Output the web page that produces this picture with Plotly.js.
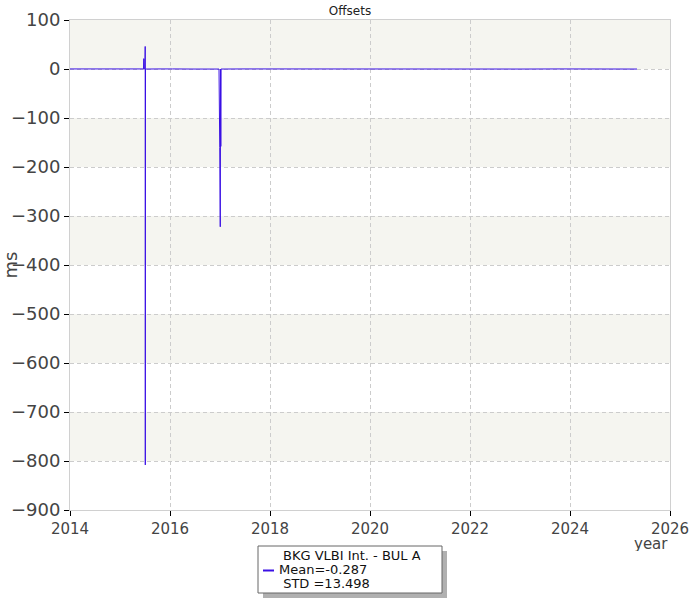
<!DOCTYPE html>
<html><head><meta charset="utf-8">
<script src="https://cdn.plot.ly/plotly-3.0.1.min.js"></script>
<style>body{margin:0;padding:0;}#chart{width:700px;height:600px;}</style>
</head><body><div id="chart"></div>
<script>
// decimal years and offsets (ms)
var years = [2014.00, 2014.40, 2014.90, 2015.30, 2015.470, 2015.475, 2015.480, 2015.485, 2015.500, 2015.504, 2015.506, 2015.508, 2015.510, 2015.80,
  2016.040, 2016.046, 2016.050, 2016.50, 2016.98, 2016.995, 2016.998, 2017.002, 2017.005, 2017.008, 2017.012, 2017.016, 2017.020, 2017.50,
  2018.20, 2019.00, 2019.80, 2020.60, 2021.40, 2022.20, 2023.00, 2023.80, 2024.60, 2025.34];
var offsets = [0.1, -0.1, 0.1, -0.1, 0.1, 21, 21, 0.1, 0.1, 46, -808, 0.1, -0.1, 0.1,
  0.1, 1.5, 0.1, -0.1, -0.1, -160, -0.3, -161, -322, -160, -0.2, -158, -0.1, 0.1,
  -0.1, 0.1, -0.1, 0.1, -0.1, 0.1, -0.1, 0.1, -0.1, -0.1];
var legendLines = ['BKG VLBI Int. - BUL A', 'Mean=-0.287', ' STD =13.498'];
var yBands = [[100, 0], [-100, -200], [-300, -400], [-500, -600], [-700, -800]];

var lineColor = '#3a10e5';
var W = 700, H = 600;
function py(y) { return 1 - y / H; }

var shapes = yBands.map(function (b) {
  return {type: 'rect', xref: 'paper', yref: 'y', x0: 0, x1: 1, y0: b[0], y1: b[1],
    fillcolor: '#f5f5f0', line: {width: 0}, layer: 'below'};
});
// legend box with shadow (pixel positions mapped to paper coordinates)
var legendShapes = [
  {type: 'rect', x0: 263, x1: 447, y0: 551, y1: 598, fillcolor: '#b0b0b0', line: {width: 0}},
  {type: 'rect', x0: 258, x1: 442, y0: 546, y1: 593, fillcolor: '#ffffff', line: {color: '#666', width: 1}},
  {type: 'line', x0: 263, x1: 274, y0: 570.5, y1: 570.5, line: {color: lineColor, width: 2}}
];
var plotL = 70, plotR = 670, plotT = 20, plotB = 510;
function toPaperX(x) { return (x - plotL) / (plotR - plotL); }
function toPaperY(y) { return (plotB - y) / (plotB - plotT); }
legendShapes.forEach(function (s) {
  shapes.push({type: s.type, xref: 'paper', yref: 'paper', x0: toPaperX(s.x0), x1: toPaperX(s.x1),
    y0: toPaperY(s.y0), y1: toPaperY(s.y1), fillcolor: s.fillcolor, line: s.line, layer: 'above'});
});

var trace = {x: years, y: offsets, type: 'scatter', mode: 'lines', name: legendLines.join(' '),
  line: {color: lineColor, width: 1}, showlegend: false};

var annotations = [{text: 'year', xref: 'paper', yref: 'paper', x: toPaperX(651), y: toPaperY(543), xanchor: 'center', yanchor: 'middle',
  height: 15, showarrow: false, font: {size: 15, color: '#444'}}];
var legX = [281, 277, 277], legY = [555.5, 569.5, 583.5];
legendLines.forEach(function (t, i) {
  annotations.push({text: t.replace(/^ /, '&nbsp;'), xref: 'paper', yref: 'paper', x: toPaperX(legX[i]), y: toPaperY(legY[i]),
    xanchor: 'left', yanchor: 'middle', height: 13, valign: 'middle', showarrow: false, font: {size: 13, color: '#111'}});
});

var layout = {
  width: W, height: H,
  margin: {l: 70, r: 30, t: 20, b: 90, autoexpand: false},
  paper_bgcolor: '#fff', plot_bgcolor: '#fff',
  font: {family: 'DejaVu Sans, Verdana, sans-serif', color: '#444'},
  title: {text: 'Offsets', font: {size: 12, color: '#222'}, x: 0.5, xref: 'container', y: py(11), yref: 'container', yanchor: 'middle'},
  xaxis: {range: [2014, 2026], dtick: 2, tick0: 2014, tickformat: 'd', showgrid: true, gridcolor: '#cccccc', griddash: '4px,3px',
    zeroline: false, showline: true, linecolor: '#d0d0d0', mirror: true, ticks: 'outside', ticklen: 5, tickcolor: '#000',
    tickfont: {size: 15}},
  yaxis: {range: [-900, 100], dtick: 100, showgrid: true, gridcolor: '#cccccc', griddash: '4px,3px',
    zeroline: false, showline: true, linecolor: '#d0d0d0', mirror: true, ticks: 'outside', ticklen: 5, tickcolor: '#000',
    tickfont: {size: 18}, title: {text: 'ms', font: {size: 18}, standoff: 6}},
  shapes: shapes,
  annotations: annotations,
  showlegend: false
};
Plotly.newPlot('chart', [trace], layout, {displayModeBar: false});
</script></body></html>
